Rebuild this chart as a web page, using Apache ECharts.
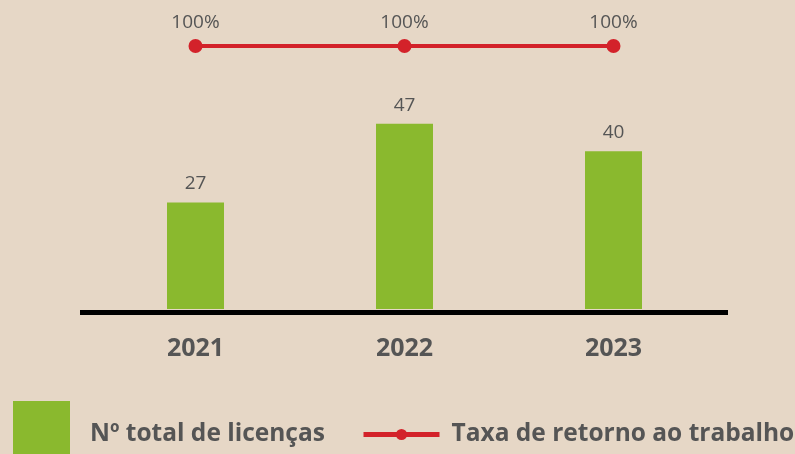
<!DOCTYPE html>
<html>
<head>
<meta charset="utf-8">
<script src="https://cdn.jsdelivr.net/npm/echarts@6/dist/echarts.min.js"></script>
<style>
  html, body { margin: 0; padding: 0; background: #e6d7c6; }
  #chart { width: 795px; height: 454px; }
</style>
</head>
<body>
<div id="chart"></div>
<script>
// Licenças parentais por ano e taxa de retorno ao trabalho
const years = ['2021', '2022', '2023'];
const totalLicencas = [27, 47, 40];
const taxaRetorno = [100, 100, 100];
const seriesNames = ['Nº total de licenças', 'Taxa de retorno ao trabalho'];

const textColor = '#555555';
const green = '#8ab92e';
const red = '#d3222a';
const fontFamily = 'Open Sans, sans-serif';

const legendText = {
  color: textColor, fontSize: 24.5, fontWeight: 'bold', fontFamily: fontFamily
};

const chart = echarts.init(document.getElementById('chart'));
chart.setOption({
  backgroundColor: '#e6d7c6',
  animation: false,
  textStyle: { fontFamily: fontFamily },
  grid: { left: 91, right: 77, top: 46, bottom: 145 },
  legend: [
    {
      data: [seriesNames[0]],
      left: 13, top: 401, padding: 0,
      itemWidth: 57, itemHeight: 58, itemGap: 0,
      icon: 'rect',
      formatter: '{t|{name}}',
      textStyle: {
        color: textColor, fontSize: 24.5, fontWeight: 'bold', fontFamily: fontFamily,
        rich: { t: Object.assign({ padding: [9, 0, 0, 15] }, legendText) }
      }
    },
    {
      data: [seriesNames[1]],
      left: 361, top: 422, padding: 0,
      itemWidth: 76, itemHeight: 14,
      lineStyle: { width: 5 },
      textStyle: Object.assign({ padding: [3, 0, 0, 7] }, legendText)
    }
  ],
  xAxis: {
    type: 'category',
    data: years,
    axisLine: { show: false },
    axisTick: { show: false },
    axisLabel: { color: textColor, fontSize: 25, fontWeight: 'bold', margin: 27 }
  },
  yAxis: [
    { type: 'value', min: 0, max: 66.7, show: false },
    { type: 'value', min: 0, max: 100, show: false }
  ],
  graphic: [
    {
      type: 'rect',
      shape: { x: 80, y: 310, width: 648, height: 5 },
      style: { fill: '#000000' },
      z: 10
    }
  ],
  series: [
    {
      name: seriesNames[0],
      type: 'bar',
      data: totalLicencas,
      barWidth: 57,
      itemStyle: { color: green },
      label: {
        show: true, position: 'top', distance: 9,
        color: textColor, fontSize: 19, fontFamily: fontFamily
      }
    },
    {
      name: seriesNames[1],
      type: 'line',
      yAxisIndex: 1,
      data: taxaRetorno,
      symbol: 'circle',
      symbolSize: 14,
      lineStyle: { color: red, width: 4 },
      itemStyle: { color: red },
      label: {
        show: true, position: 'top', distance: 7,
        color: textColor, fontSize: 19, fontFamily: fontFamily,
        formatter: '{c}%'
      }
    }
  ]
});
</script>
</body>
</html>
